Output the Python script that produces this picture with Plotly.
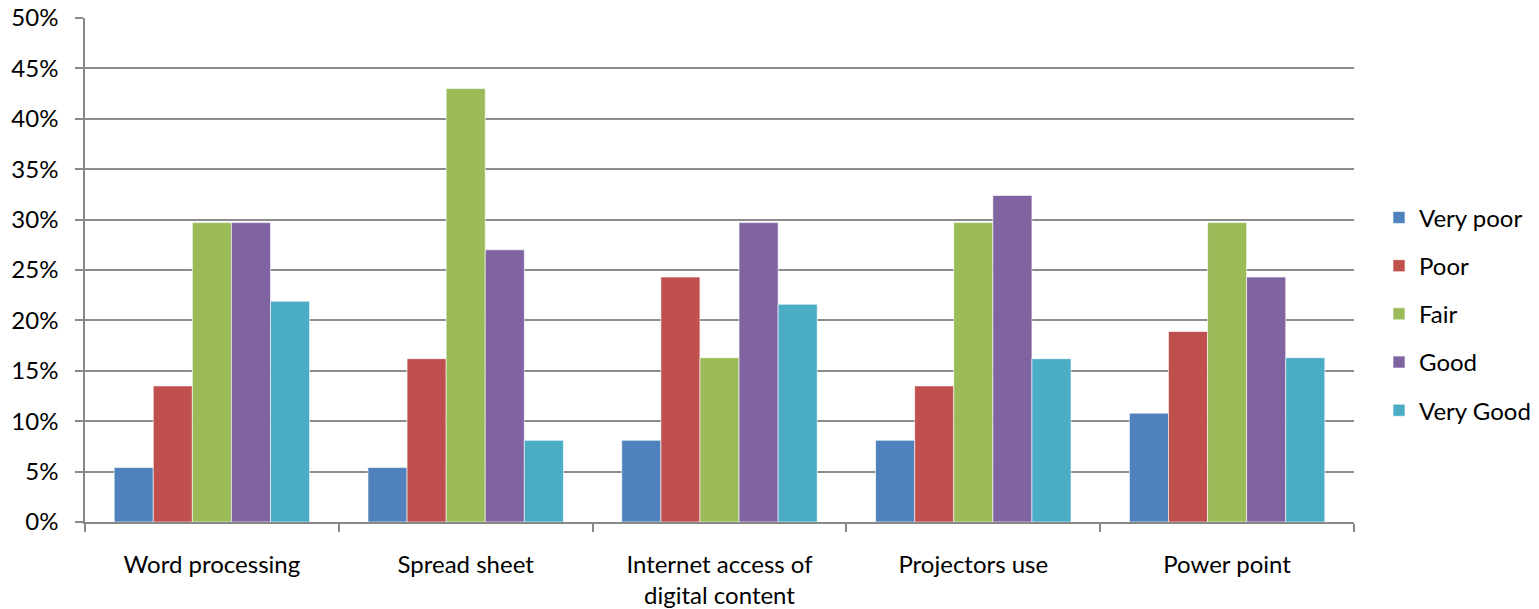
import plotly.graph_objects as go

categories = ["Word processing", "Spread sheet", "Internet access of<br>digital content", "Projectors use", "Power point"]
series_names = ["Very poor", "Poor", "Fair", "Good", "Very Good"]
very_poor = [5.4, 5.4, 8.1, 8.1, 10.8]
poor = [13.5, 16.2, 24.3, 13.5, 18.9]
fair = [29.7, 43.0, 16.3, 29.7, 29.7]
good = [29.7, 27.0, 29.7, 32.4, 24.3]
very_good = [21.9, 8.1, 21.6, 16.2, 16.3]
colors = ["#4F81BD", "#C0504D", "#9BBB59", "#8064A2", "#4BACC6"]
y_ticks = [0, 5, 10, 15, 20, 25, 30, 35, 40, 45, 50]

fig = go.Figure()
for name, vals, col in zip(series_names, [very_poor, poor, fair, good, very_good], colors):
    fig.add_trace(go.Bar(
        x=categories, y=vals, name=name, legendgroup=name,
        marker=dict(color=col, line=dict(color="rgba(255,255,255,0.6)", width=1)),
    ))

font_family = "Lato, 'Open Sans', sans-serif"
FS = 24
W, H = 1539, 609
L, R, T, B = 85, 0, 18, 87
plot_right = 1354
paper_w = W - L - R
fig.update_layout(
    width=W, height=H,
    barmode="group", bargap=0.23, bargroupgap=0,
    plot_bgcolor="white", paper_bgcolor="white",
    margin=dict(l=L, r=R, t=T, b=B, pad=0),
    font=dict(family=font_family, size=FS, color="#000000"),
    legend=dict(x=(1379 - L) / paper_w, xanchor="left", y=0.413, yanchor="middle",
                tracegroupgap=14, font=dict(size=FS), borderwidth=0),
    showlegend=True,
)
fig.update_xaxes(
    domain=[0, (plot_right - L) / paper_w],
    showgrid=False, showline=True, linecolor="#888888", linewidth=1.5,
    ticks="outside", tickson="boundaries", ticklen=8, tickcolor="#888888", tickwidth=1.5,
    tickfont=dict(size=FS), automargin=False, ticklabelstandoff=20,
)
fig.update_yaxes(
    range=[0, 50], tickvals=y_ticks, ticktext=[f"{v}%" for v in y_ticks],
    showgrid=True, gridcolor="#8c8c8c", gridwidth=1.5,
    showline=True, linecolor="#888888", linewidth=1.5,
    ticks="outside", ticklen=8, tickcolor="#888888", tickwidth=1.5,
    tickfont=dict(size=FS), zeroline=False, automargin=False, ticklabelstandoff=12,
)
fig.write_html("out.html", config={"displayModeBar": False},
               post_script="document.body.style.margin='0';document.body.style.overflow='hidden';")
